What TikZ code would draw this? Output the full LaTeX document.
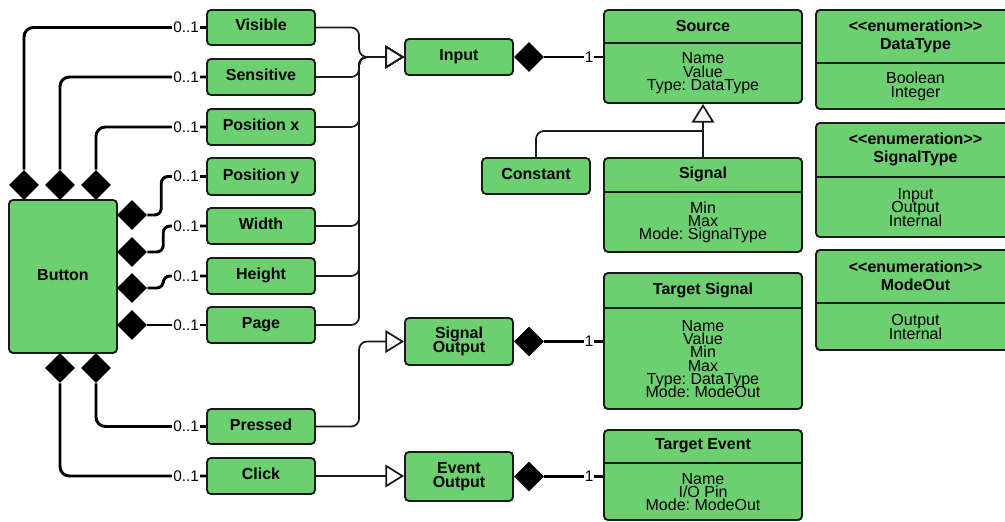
\documentclass[tikz,border=0pt]{standalone}
\usepackage{fontspec}
\setmainfont{Liberation Sans}
\usetikzlibrary{shapes.geometric,arrows.meta,fit,calc}

\definecolor{umlgreen}{HTML}{6CCF70}
\definecolor{inkline}{HTML}{1A1A1A}

\frenchspacing
% tight stacked lines, no extra lineskip between them
\newcommand\tight{\lineskiplimit=-100pt\lineskip=0pt}
% stereotype brackets kept as two separate characters
\newcommand\stereo[1]{<\kern0pt<#1>\kern0pt>}

\tikzset{
  box/.style={draw=inkline, fill=umlgreen, line width=1.4pt, rounded corners=3pt, inner sep=0pt},
  boxtext/.style={font=\bfseries\fontsize{12}{10}\selectfont\tight, align=center, inner sep=0pt},
  divider/.style={draw=inkline, line width=1.4pt},
  dia/.style={diamond, fill=black, minimum width=22.5pt, minimum height=22.5pt, inner sep=0pt},
  comp/.style={line width=2.2pt, rounded corners=7pt},
  sbend/.style={line width=2.2pt, rounded corners=5pt},
  genline/.style={draw=inkline, line width=1.3pt, rounded corners=6pt},
  gen/.style={genline, -{Triangle[open, length=14pt, width=17pt, fill=white]}},
  mult/.style={fill=white, inner sep=0.6pt, font=\fontsize{11.5}{12}\selectfont},
  hdr/.style={font=\bfseries\fontsize{12}{13.75}\selectfont\tight, align=center, inner sep=0pt},
  attr/.style={font=\fontsize{12}{10}\selectfont\tight, align=center, inner sep=0pt},
}

% plain box with a one-line bold label
\newcommand\ubox[4]{%
  \node[box, fit={#2 #3}] (#1) {};
  \node[boxtext, anchor=base] (#1-text) at ($(#1.center)+(0,3.5)$) {#4};
}
% plain box with a centred multi-line bold label
\newcommand\uboxml[4]{%
  \node[box, fit={#2 #3}] (#1) {};
  \node[boxtext] (#1-text) at (#1.center) {#4};
}
% class box with a header compartment and an attribute compartment
% #1 name, #2 top-left, #3 bottom-right, #4 divider y, #5 header, #6 attributes
\newcommand\umlclass[6]{%
  \node[box, fit={#2 #3}] (#1) {};
  \draw[divider] (#1.west |- 0,#4) -- (#1.east |- 0,#4);
  \node[hdr] (#1-head) at ($(#1.north)!.5!(#1.north |- 0,#4)$) {#5};
  \node[attr] (#1-body) at ($(#1.south)!.5!(#1.south |- 0,#4)$) {#6};
}

\begin{document}
\begin{tikzpicture}[x=0.75pt, y=-0.75pt]
\useasboundingbox (0,0) rectangle (1005,521);
\clip (0,0) rectangle (1005,521);

% ---- Button and its attribute boxes
\ubox{button}{(9,200)}{(117,353)}{Button}
\ubox{visible}{(207,10)}{(315,45)}{Visible}
\ubox{sensitive}{(207,59)}{(315,95)}{Sensitive}
\ubox{posx}{(207,109)}{(315,145)}{Position x}
\ubox{posy}{(207,158)}{(315,195)}{Position y}
\ubox{width}{(207,208)}{(315,244)}{Width}
\ubox{height}{(207,258)}{(315,294)}{Height}
\ubox{page}{(207,307)}{(315,343)}{Page}
\ubox{pressed}{(207,409)}{(315,444)}{Pressed}
\ubox{click}{(207,458)}{(315,494)}{Click}

% ---- abstract parents
\ubox{input}{(405,39)}{(513,75)}{Input}
\uboxml{sigout}{(405,318)}{(513,365)}{Signal\\Output}
\uboxml{evout}{(405,452)}{(513,501)}{Event\\Output}
\ubox{constant}{(482,158)}{(590,194)}{Constant}

% ---- classes with attributes
\umlclass{source}{(604,10)}{(802,103)}{43}{Source}{Name\\Value\\Type: DataType}
\umlclass{signal}{(604,158)}{(802,252)}{192}{Signal}{Min\\Max\\Mode: SignalType}
\umlclass{tsignal}{(604,273)}{(802,409)}{308}{Target Signal}{Name\\Value\\Min\\Max\\Type: DataType\\Mode: ModeOut}
\umlclass{tevent}{(604,430)}{(802,520)}{463}{Target Event}{Name\\I/O Pin\\Mode: ModeOut}

% ---- enumerations
\umlclass{datatype}{(816,10)}{(1015,109)}{63}{\stereo{enumeration}\\DataType}{Boolean\\Integer}
\umlclass{signaltype}{(816,123)}{(1015,237)}{177}{\stereo{enumeration}\\SignalType}{Input\\Output\\Internal}
\umlclass{modeout}{(816,250)}{(1015,350)}{303}{\stereo{enumeration}\\ModeOut}{Output\\Internal}

% ---- composition diamonds on Button
\node[dia] (dt1) at (24,185) {};
\node[dia] (dt2) at (60,185) {};
\node[dia] (dt3) at (96,185) {};
\node[dia] (dr1) at (132,215) {};
\node[dia] (dr2) at (132,252) {};
\node[dia] (dr3) at (132,288) {};
\node[dia] (dr4) at (132,325) {};
\node[dia] (db1) at (60,368) {};
\node[dia] (db2) at (96,368) {};

% ---- composition diamonds on the parents
\node[dia] (din)  at ($(input.east)+(15,0)$) {};
\node[dia] (dsig) at ($(sigout.east)+(15,0)$) {};
\node[dia] (dev)  at ($(evout.east)+(15,0)$) {};

% ---- Button compositions
\draw[comp] (dt1.north) |- (visible.west);
\draw[comp] (dt2.north) |- (sensitive.west);
\draw[comp] (dt3.north) |- (posx.west);
\draw[sbend] (dr1.east) -- ++(14,0) |- (posy.west);
\draw[sbend] (dr2.east) -- ++(16,0) |- (width.west);
\draw[sbend] (dr3.east) -- ++(16,0) |- (height.west);
\draw[comp] (dr4.east) -- (dr4.east -| page.west);
\draw[comp] (db2.south) |- (pressed.west);
\draw[comp] (db1.south) |- (click.west);

% ---- generalizations
\coordinate (busin)  at ($(input.west)+(-45,0)$);
\coordinate (bussig) at ($(sigout.west)+(-45,0)$);
\draw[gen] (visible.east) -| (busin) -- (input.west);
\draw[gen] (sensitive.east) -| (busin) -- (input.west);
\draw[gen] (posx.east) -| (busin) -- (input.west);
\draw[gen] (width.east) -| (busin) -- (input.west);
\draw[gen] (height.east) -| (busin) -- (input.west);
\draw[gen] (page.east) -| (busin) -- (input.west);
\draw[gen] (pressed.east) -| (bussig) -- (sigout.west);
\draw[gen] (click.east) -- (click.east -| evout.west);
\coordinate (genjoin) at (signal.north |- 0,131);
\draw[genline] (constant.north) |- (genjoin);
\draw[gen] (signal.north) -- (source.south);

% ---- parent compositions
\draw[comp] (din.east) -- (din.east -| source.west);
\draw[comp] (dsig.east) -- (dsig.east -| tsignal.west);
\draw[comp] (dev.east) -- (dev.east -| tevent.west);

% ---- multiplicities
\node[mult] (m1) at ($(visible.west)+(-20,0)$) {0..1};
\node[mult] (m2) at ($(sensitive.west)+(-20,0)$) {0..1};
\node[mult] (m3) at ($(posx.west)+(-20,0)$) {0..1};
\node[mult] (m4) at ($(posy.west)+(-20,0)$) {0..1};
\node[mult] (m5) at ($(width.west)+(-20,0)$) {0..1};
\node[mult] (m6) at ($(height.west)+(-20,0)$) {0..1};
\node[mult] (m7) at ($(page.west)+(-20,0)$) {0..1};
\node[mult] (m8) at ($(pressed.west)+(-20,0)$) {0..1};
\node[mult] (m9) at ($(click.west)+(-20,0)$) {0..1};
\node[mult] (m10) at ($(din.east -| source.west)+(-14,0)$) {1};
\node[mult] (m11) at ($(dsig.east -| tsignal.west)+(-14,0)$) {1};
\node[mult] (m12) at ($(dev.east -| tevent.west)+(-14,0)$) {1};
\end{tikzpicture}
\end{document}
